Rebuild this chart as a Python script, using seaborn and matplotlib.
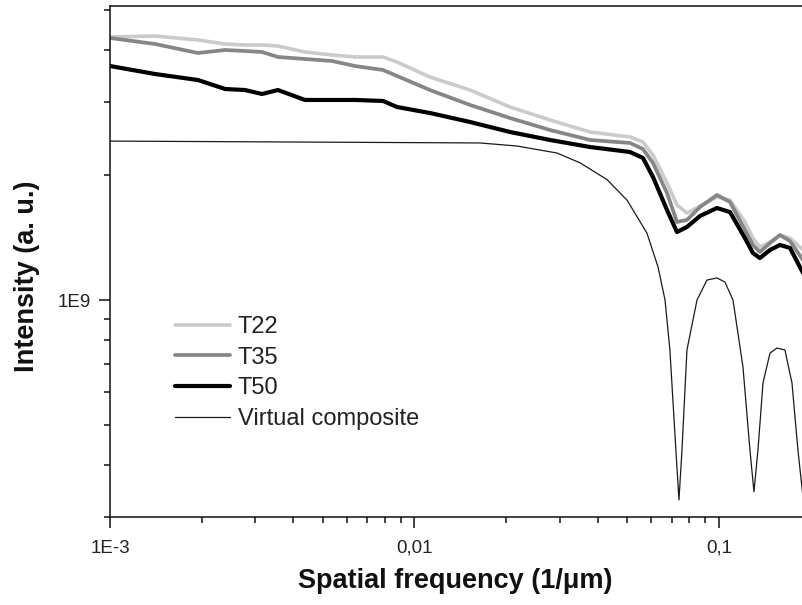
import numpy as np
import pandas as pd
import matplotlib
matplotlib.use("Agg")
import matplotlib.pyplot as plt
import matplotlib.ticker as mticker
import seaborn as sns

# ---------------- data ----------------
freq = [1.000e-3, 1.405e-3, 1.945e-3, 2.387e-3, 2.776e-3, 3.157e-3, 3.562e-3,
        4.369e-3, 5.360e-3, 6.376e-3, 7.882e-3, 8.761e-3, 1.124e-2, 1.522e-2,
        2.059e-2, 2.786e-2, 3.771e-2, 5.103e-2, 5.628e-2, 6.072e-2, 6.750e-2,
        7.280e-2, 7.852e-2, 8.664e-2, 9.849e-2, 0.1087, 0.1217, 0.1293, 0.1363,
        0.1471, 0.1586, 0.1711, 0.1888]

t22 = [4.302e9, 4.326e9, 4.232e9, 4.139e9, 4.116e9, 4.116e9, 4.093e9,
       3.959e9, 3.894e9, 3.851e9, 3.851e9, 3.745e9, 3.446e9, 3.206e9,
       2.918e9, 2.715e9, 2.540e9, 2.471e9, 2.403e9, 2.235e9, 1.914e9,
       1.694e9, 1.620e9, 1.685e9, 1.771e9, 1.742e9, 1.542e9, 1.410e9, 1.342e9,
       1.380e9, 1.434e9, 1.410e9, 1.320e9]

t35 = [4.279e9, 4.139e9, 3.937e9, 4.003e9, 3.981e9, 3.959e9, 3.851e9,
       3.808e9, 3.766e9, 3.663e9, 3.583e9, 3.466e9, 3.206e9, 2.951e9,
       2.745e9, 2.568e9, 2.430e9, 2.390e9, 2.311e9, 2.139e9, 1.811e9,
       1.542e9, 1.559e9, 1.675e9, 1.791e9, 1.722e9, 1.475e9, 1.357e9, 1.305e9,
       1.372e9, 1.434e9, 1.387e9, 1.248e9]

t50 = [3.663e9, 3.504e9, 3.389e9, 3.224e9, 3.206e9, 3.136e9, 3.206e9,
       3.034e9, 3.034e9, 3.034e9, 3.017e9, 2.918e9, 2.822e9, 2.685e9,
       2.540e9, 2.430e9, 2.337e9, 2.273e9, 2.199e9, 1.979e9, 1.648e9,
       1.458e9, 1.500e9, 1.594e9, 1.666e9, 1.629e9, 1.410e9, 1.298e9, 1.262e9,
       1.320e9, 1.357e9, 1.335e9, 1.162e9]

comp_freq = [0.001, 0.0164, 0.0217, 0.0294, 0.0350, 0.0429, 0.0499, 0.0580,
             0.0631, 0.0665, 0.0690, 0.0722, 0.0739, 0.0756, 0.0785, 0.0847,
             0.0913, 0.0985, 0.1046, 0.1112, 0.1199, 0.1264, 0.1303, 0.1343,
             0.1395, 0.1471, 0.1551, 0.1647, 0.1737, 0.1817, 0.1888]
comp = [2.415e9, 2.39e9, 2.35e9, 2.26e9, 2.14e9, 1.95e9, 1.74e9, 1.45e9,
        1.20e9, 1.00e9, 7.58e8, 4.35e8, 3.30e8, 4.35e8, 7.58e8, 1.00e9,
        1.117e9, 1.13e9, 1.105e9, 1.00e9, 6.90e8, 4.35e8, 3.45e8, 4.35e8,
        6.31e8, 7.45e8, 7.66e8, 7.58e8, 6.31e8, 4.35e8, 3.35e8]

series_names = ["T22", "T35", "T50", "Virtual composite"]
x_tick_values = [1e-3, 1e-2, 1e-1]
x_tick_labels = ["1E-3", "0,01", "0,1"]
y_tick_values = [1e9]
y_tick_labels = ["1E9"]

# ---------------- styling ----------------
sns.set_style("ticks")
plt.rcParams["font.family"] = ["Liberation Sans", "DejaVu Sans"]

W, H = 803, 605
fig = plt.figure(figsize=(W / 100, H / 100), dpi=100)
ax = fig.add_axes([110 / W, 1 - 517 / H, 1 - 110 / W, (517 - 6) / H])

df = pd.DataFrame({"freq": freq, "T22": t22, "T35": t35, "T50": t50})
dfc = pd.DataFrame({"freq": comp_freq, "val": comp})

sns.lineplot(data=df, x="freq", y="T22", ax=ax, color="#cbcbcb", lw=2.6,
             label=series_names[0])
sns.lineplot(data=df, x="freq", y="T35", ax=ax, color="#868686", lw=2.7,
             label=series_names[1])
sns.lineplot(data=df, x="freq", y="T50", ax=ax, color="#000000", lw=3.0,
             label=series_names[2])
sns.lineplot(data=dfc, x="freq", y="val", ax=ax, color="#1a1a1a", lw=0.9,
             label=series_names[3])

ax.set_xscale("log")
ax.set_yscale("log")
ax.set_xlim(1e-3, 0.1888)
ax.set_ylim(3e8, 5.11e9)

ax.xaxis.set_major_locator(mticker.FixedLocator(x_tick_values))
ax.xaxis.set_major_formatter(mticker.FixedFormatter(x_tick_labels))
ax.xaxis.set_minor_locator(mticker.LogLocator(base=10, subs=np.arange(2, 10), numticks=20))
ax.xaxis.set_minor_formatter(mticker.NullFormatter())
ax.yaxis.set_major_locator(mticker.FixedLocator(y_tick_values))
ax.yaxis.set_major_formatter(mticker.FixedFormatter(y_tick_labels))
ax.yaxis.set_minor_locator(mticker.LogLocator(base=10, subs=np.arange(2, 10), numticks=20))
ax.yaxis.set_minor_formatter(mticker.NullFormatter())

ax.tick_params(which="major", direction="out", length=8, width=1.1,
               labelsize=13.5, color="#111111", labelcolor="#222222")
ax.tick_params(axis="x", which="major", pad=8.5)
ax.tick_params(axis="y", which="major", pad=6)
ax.tick_params(which="minor", direction="out", length=4.5, width=1.1, color="#111111")
ax.tick_params(top=False, right=False, which="both")

for s in ["left", "bottom", "top"]:
    ax.spines[s].set_visible(True)
    ax.spines[s].set_linewidth(1.1)
    ax.spines[s].set_color("#111111")
ax.spines["right"].set_visible(False)

ax.set_xlabel("")
ax.set_ylabel("")
fig.text(455 / W, 1 - 581 / H, "Spatial frequency (1/\u03bcm)", ha="center", va="center",
         fontsize=19.5, fontweight="bold", color="#111111")
fig.text(27 / W, 1 - 276 / H, "Intensity (a. u.)", ha="center", va="center",
         rotation=90, fontsize=19.5, fontweight="bold", color="#111111")

leg = ax.legend(loc="upper left", bbox_to_anchor=(175 / W, 1 - 316 / H),
                bbox_transform=fig.transFigure, frameon=False, fontsize=17,
                handlelength=2.35, handletextpad=0.3, labelspacing=0.37,
                borderpad=0, borderaxespad=0)
for t in leg.get_texts():
    t.set_color("#222222")

fig.savefig("out.png", dpi=100)
